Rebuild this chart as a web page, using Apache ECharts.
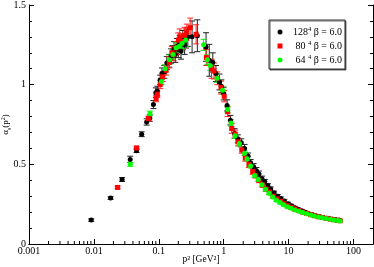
<!DOCTYPE html>
<html><head><meta charset="utf-8">
<script src="https://cdn.jsdelivr.net/npm/echarts@6/dist/echarts.min.js"></script>
<style>html,body{margin:0;padding:0;background:#fff}#c{width:374px;height:267px}</style>
</head><body><div id="c"></div>
<script>
// ---- data ----
const xTickLabels = ['0.001', '0.01', '0.1', '1', '10', '100'];
const yTickLabels = ['0', '0.5', '1', '1.5'];
const latticeSizes = ['128', '80', '64'];
const betaText = ' β = 6.0';
const seriesNames = ['128^4 β = 6.0', '80^4 β = 6.0', '64^4 β = 6.0'];

const p2_128 = [0.0091,0.0181,0.0272,0.0363,0.0454,0.0545,0.065,0.0726,0.0826,0.09,
  0.095,0.105,0.112,0.122,0.133,0.145,0.155,0.163,0.172,0.18,
  0.19,0.2,0.21,0.22,0.235,0.25,0.265,0.28,0.326,0.393,
  0.535,0.60,0.68,0.76,0.86,0.92,1.0,1.13,1.27,1.47,
  1.65,1.87,2.1,2.38,2.6,2.9,3.2,3.5,3.9,4.3,
  4.8,5.3,6.0,6.8,7.6,8.6,9.8,11,12.5,14,
  16,18,20,23,26,30,34,38,43,48,
  54,60];
const a_128 = [0.150,0.288,0.405,0.531,0.586,0.689,0.766,0.79,0.875,0.95,
  0.96,1.03,1.07,1.08,1.136,1.15,1.18,1.2,1.22,1.19,
  1.24,1.22,1.26,1.21,1.28,1.25,1.29,1.3,1.30,1.307,
  1.236,1.153,1.14,1.07,1.017,0.99,0.944,0.87,0.777,0.694,
  0.66,0.635,0.60,0.551,0.51,0.485,0.46,0.44,0.41,0.39,
  0.365,0.345,0.32,0.30,0.285,0.27,0.253,0.24,0.228,0.218,
  0.208,0.20,0.192,0.185,0.178,0.172,0.166,0.162,0.158,0.155,
  0.152,0.150];
const e_128 = [0.008,0.008,0.012,0.02,0.012,0.015,0.02,0.02,0.025,0.03,
  0.03,0.03,0.035,0.04,0.04,0.04,0.045,0.045,0.05,0.05,
  0.05,0.05,0.05,0.05,0.06,0.06,0.06,0.06,0.1,0.1,
  0.09,0.1,0.06,0.05,0.05,0.04,0.04,0.035,0.03,0.03,
  0.025,0.025,0.025,0.02,0.02,0.02,0.02,0.018,0.016,0.015,
  0.014,0.013,0.012,0.011,0.01,0.01,0.009,0.009,0.008,0.008,
  0.008,0.007,0.007,0.007,0.007,0.006,0.006,0.006,0.006,0.006,
  0.006,0.006];

const p2_80 = [0.0232,0.0455,0.069,0.091,0.095,0.105,0.115,0.13,0.145,0.159,
  0.17,0.185,0.2,0.21,0.225,0.25,0.27,0.305,0.376,0.54,
  0.65,0.71,0.80,0.91,1.02,1.15,1.33,1.5,1.66,1.9,
  2.15,2.45,2.8,3.1,3.5,4.0,4.5,5.1,5.8,6.6,
  7.5,8.5,9.7,11,12.5,14.5,16.5,19,22,25,
  29,33,38,44,50,57,62];
const a_80 = [0.355,0.603,0.787,0.913,0.94,1.0,1.05,1.09,1.14,1.2,
  1.19,1.23,1.28,1.3,1.27,1.31,1.33,1.358,1.316,1.17,
  1.1,1.086,1.04,0.982,0.927,0.83,0.725,0.69,0.641,0.59,
  0.54,0.50,0.455,0.43,0.40,0.37,0.345,0.325,0.30,0.283,
  0.268,0.253,0.24,0.23,0.22,0.21,0.20,0.192,0.184,0.178,
  0.171,0.166,0.161,0.156,0.152,0.148,0.146];
const e_80 = [0.008,0.01,0.015,0.02,0.02,0.025,0.03,0.03,0.035,0.04,
  0.04,0.04,0.045,0.05,0.05,0.05,0.05,0.06,0.06,0.05,
  0.06,0.05,0.04,0.04,0.035,0.03,0.03,0.025,0.025,0.02,
  0.02,0.02,0.018,0.016,0.015,0.014,0.013,0.012,0.011,0.01,
  0.01,0.009,0.009,0.008,0.008,0.008,0.007,0.007,0.007,0.007,
  0.006,0.006,0.006,0.006,0.006,0.006,0.006];

const p2_64 = [0.0363,0.073,0.11,0.125,0.146,0.165,0.185,0.205,0.229,0.26,
  0.49,0.56,0.62,0.79,0.96,1.15,1.3,1.5,1.75,2.1,
  2.3,2.6,3.0,3.4,3.9,4.4,5.0,5.7,6.5,7.4,
  8.4,9.6,11,12.5,14.5,16.5,19,22,25,29,
  33,38,44,50,57,62];
const a_64 = [0.50,0.819,1.02,1.10,1.157,1.19,1.232,1.24,1.26,1.28,
  1.25,1.157,1.12,1.04,0.965,0.844,0.76,0.68,0.63,0.57,
  0.535,0.49,0.43,0.405,0.372,0.343,0.318,0.295,0.275,0.26,
  0.247,0.234,0.224,0.214,0.205,0.197,0.19,0.182,0.176,0.17,
  0.165,0.16,0.155,0.151,0.148,0.145];
const e_64 = [0.012,0.015,0.02,0.025,0.03,0.03,0.03,0.035,0.035,0.04,
  0.035,0.03,0.03,0.025,0.025,0.02,0.02,0.018,0.016,0.015,
  0.014,0.013,0.012,0.011,0.01,0.01,0.009,0.009,0.008,0.008,
  0.007,0.007,0.007,0.006,0.006,0.006,0.006,0.005,0.005,0.005,
  0.005,0.005,0.005,0.005,0.005,0.005];

// ---- chart ----
const FONT = 'Liberation Serif';
const X_MIN = 0.001, X_MAX = 200, Y_MIN = 0, Y_MAX = 1.5;
const minorXTicks = [];
for (let d = -3; d <= 2; d++) for (let m = 2; m <= 9; m++) {
  const v = m * Math.pow(10, d);
  if (v < X_MAX) minorXTicks.push([v, Y_MIN]);
}

function errSeries(xs, ys, es, color, id) {
  return {
    type: 'custom', id: id, silent: true, clip: true,
    data: xs.map((x, i) => [x, ys[i] - es[i], ys[i] + es[i]]),
    encode: { x: 0, y: [1, 2] },
    renderItem(params, api) {
      const lo = api.coord([api.value(0), api.value(1)]);
      const hi = api.coord([api.value(0), api.value(2)]);
      const w = 3, st = { stroke: color, lineWidth: 1 };
      return { type: 'group', children: [
        { type: 'line', shape: { x1: lo[0], y1: lo[1], x2: hi[0], y2: hi[1] }, style: st },
        { type: 'line', shape: { x1: lo[0] - w, y1: lo[1], x2: lo[0] + w, y2: lo[1] }, style: st },
        { type: 'line', shape: { x1: hi[0] - w, y1: hi[1], x2: hi[0] + w, y2: hi[1] }, style: st }
      ]};
    }
  };
}
function ptSeries(xs, ys, color, name, symbol) {
  return {
    type: 'scatter', name: name, symbol: symbol, symbolSize: 5,
    itemStyle: { color: color, opacity: 1 },
    data: xs.map((x, i) => [x, ys[i]])
  };
}

const chart = echarts.init(document.getElementById('c'), null, { renderer: 'canvas' });
const xLabelFmt = v => xTickLabels.find(l => Math.abs(Math.log10(+l) - Math.log10(v)) < 1e-6) || '';
const yLabelFmt = v => yTickLabels.find(l => Math.abs(+l - v) < 1e-9) || '';
const commonY = {
  type: 'value', min: Y_MIN, max: Y_MAX, interval: 0.5,
  axisLine: { show: true, lineStyle: { color: '#000', width: 1 } },
  axisTick: { show: true, inside: true, length: 5, lineStyle: { color: '#000' } },
  minorTick: { show: true, splitNumber: 5, length: 3, lineStyle: { color: '#000' } },
  splitLine: { show: false }
};

chart.setOption({
  animation: false,
  backgroundColor: '#fff',
  textStyle: { fontFamily: FONT },
  grid: { left: 29, right: 1, top: 5, bottom: 23, containLabel: false, outerBoundsMode: 'none' },
  xAxis: [
    {
      type: 'log', logBase: 10, min: X_MIN, max: X_MAX, position: 'bottom',
      axisLine: { show: true, lineStyle: { color: '#000', width: 1 } },
      axisTick: { show: true, inside: true, length: 5, lineStyle: { color: '#000' } },
      splitLine: { show: false }, minorTick: { show: false },
      axisLabel: { show: true, formatter: xLabelFmt, showMaxLabel: false, margin: 2,
        color: '#000', fontFamily: FONT, fontSize: 10 },
      name: 'p² [GeV²]', nameLocation: 'middle', nameGap: 10, nameMoveOverlap: false,
      nameTextStyle: { color: '#000', fontFamily: FONT, fontSize: 9.5 }
    },
    {
      type: 'log', logBase: 10, min: X_MIN, max: X_MAX, position: 'top',
      axisLine: { show: true, lineStyle: { color: '#000', width: 1 } },
      axisTick: { show: false }, axisLabel: { show: false },
      splitLine: { show: false }, minorTick: { show: false }
    }
  ],
  yAxis: [
    Object.assign({}, commonY, {
      position: 'left',
      axisLabel: { show: true, formatter: yLabelFmt, margin: 3, color: '#000',
        fontFamily: FONT, fontSize: 10 },
      name: '{a|α}{s|s}{a|(p}{u|2}{a|)}', nameLocation: 'middle', nameGap: 17,
      nameMoveOverlap: false,
      nameTextStyle: { color: '#000', fontFamily: FONT, fontSize: 9,
        rich: {
          a: { fontFamily: FONT, fontSize: 9, lineHeight: 12, color: '#000' },
          s: { fontFamily: FONT, fontSize: 6, lineHeight: 12, verticalAlign: 'bottom', color: '#000' },
          u: { fontFamily: FONT, fontSize: 6, lineHeight: 8, verticalAlign: 'top', color: '#000' }
        } }
    }),
    Object.assign({}, commonY, { position: 'right', axisLabel: { show: false } })
  ],
  legend: {
    orient: 'vertical', left: 269, top: 20,
    padding: [6, 3, 4, 8.5], itemGap: 3, itemWidth: 5, itemHeight: 5,
    backgroundColor: '#fff', borderColor: '#333', borderWidth: 1,
    shadowColor: 'rgba(0,0,0,0.6)', shadowOffsetX: 1, shadowOffsetY: 1, shadowBlur: 0,
    selectedMode: false,
    data: [
      { name: seriesNames[0], icon: 'circle' },
      { name: seriesNames[1], icon: 'rect' },
      { name: seriesNames[2], icon: 'circle' }
    ],
    formatter: name => {
      const i = seriesNames.indexOf(name);
      return '{sp|}{n|' + latticeSizes[i] + '}{u|4}{t|' + betaText + '}';
    },
    textStyle: {
      fontFamily: FONT, fontSize: 10, color: '#000',
      rich: {
        sp: { width: 5.5, lineHeight: 12 },
        n: { fontFamily: FONT, fontSize: 10, width: 15, align: 'right', lineHeight: 12, color: '#000' },
        u: { fontFamily: FONT, fontSize: 6.5, lineHeight: 9, verticalAlign: 'top', color: '#000' },
        t: { fontFamily: FONT, fontSize: 10, lineHeight: 12, color: '#000' }
      }
    }
  },
  series: [
    {
      type: 'custom', silent: true, clip: false, z: 3, data: minorXTicks,
      encode: { x: 0, y: 1 }, xAxisIndex: 0, yAxisIndex: 0,
      renderItem(params, api) {
        const b = api.coord([api.value(0), api.value(1)]);
        return { type: 'line', shape: { x1: b[0], y1: b[1], x2: b[0], y2: b[1] - 3 },
          style: { stroke: '#000', lineWidth: 1 } };
      }
    },
    errSeries(p2_128, a_128, e_128, '#222', 'err128'),
    ptSeries(p2_128, a_128, '#000', seriesNames[0], 'circle'),
    errSeries(p2_80, a_80, e_80, '#ff2020', 'err80'),
    ptSeries(p2_80, a_80, '#ff0000', seriesNames[1], 'rect'),
    errSeries(p2_64, a_64, e_64, '#10e010', 'err64'),
    ptSeries(p2_64, a_64, '#00ff00', seriesNames[2], 'circle')
  ]
});
</script>
</body></html>
